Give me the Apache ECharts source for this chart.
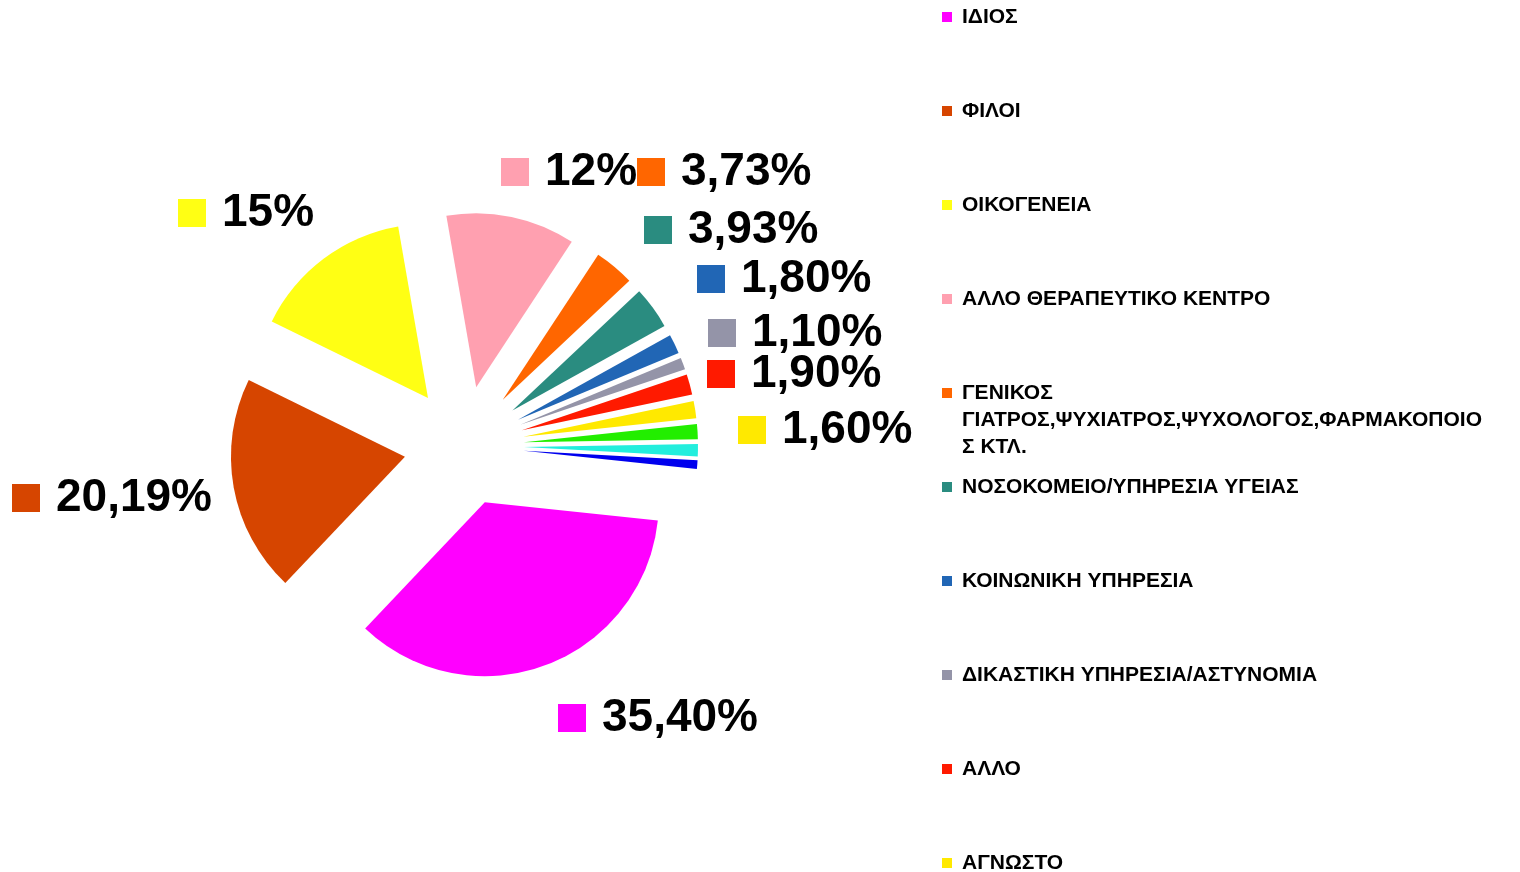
<!DOCTYPE html>
<html>
<head>
<meta charset="utf-8">
<script src="https://cdn.jsdelivr.net/npm/echarts@6/dist/echarts.min.js"></script>
<style>
html,body{margin:0;padding:0;background:#fff;}
#chart{width:1520px;height:872px;}
</style>
</head>
<body>
<div id="chart"></div>
<script>
// ---- data ----
var categories = [
  'ΙΔΙΟΣ',
  'ΦΙΛΟΙ',
  'ΟΙΚΟΓΕΝΕΙΑ',
  'ΑΛΛΟ ΘΕΡΑΠΕΥΤΙΚΟ ΚΕΝΤΡΟ',
  'ΓΕΝΙΚΟΣ ΓΙΑΤΡΟΣ,ΨΥΧΙΑΤΡΟΣ,ΨΥΧΟΛΟΓΟΣ,ΦΑΡΜΑΚΟΠΟΙΟΣ ΚΤΛ.',
  'ΝΟΣΟΚΟΜΕΙΟ/ΥΠΗΡΕΣΙΑ ΥΓΕΙΑΣ',
  'ΚΟΙΝΩΝΙΚΗ ΥΠΗΡΕΣΙΑ',
  'ΔΙΚΑΣΤΙΚΗ ΥΠΗΡΕΣΙΑ/ΑΣΤΥΝΟΜΙΑ',
  'ΑΛΛΟ',
  'ΑΓΝΩΣΤΟ',
  'Κατηγορία 11',
  'Κατηγορία 12',
  'Κατηγορία 13'
];
var values = [35.40, 20.19, 15, 12, 3.73, 3.93, 1.80, 1.10, 1.90, 1.60, 1.40, 1.15, 0.80];
var valueLabels = ['35,40%', '20,19%', '15%', '12%', '3,73%', '3,93%', '1,80%', '1,10%', '1,90%', '1,60%', '', '', ''];
var legendCount = 10;

// ---- styles ----
var colors = ['#FF00FF', '#D64500', '#FFFF14', '#FFA0B0', '#FF6600', '#2A8C80', '#2166B5', '#9494A8', '#FF1A00', '#FFE900', '#22EE00', '#22EEDD', '#0000EE'];
var labelPos = [
  [558, 718], [12, 498], [178, 213], [501, 172], [637, 172], [644, 230],
  [697, 279], [708, 333], [707, 374], [738, 430]
];
var legendLines = {
  'ΓΕΝΙΚΟΣ ΓΙΑΤΡΟΣ,ΨΥΧΙΑΤΡΟΣ,ΨΥΧΟΛΟΓΟΣ,ΦΑΡΜΑΚΟΠΟΙΟΣ ΚΤΛ.': '\n\nΓΕΝΙΚΟΣ\nΓΙΑΤΡΟΣ,ΨΥΧΙΑΤΡΟΣ,ΨΥΧΟΛΟΓΟΣ,ΦΑΡΜΑΚΟΠΟΙΟ\nΣ ΚΤΛ.'
};
var FONT = '"Liberation Sans", Arial, sans-serif';

var sliceData = categories.map(function (name, i) {
  return { name: name, value: values[i], selected: true, itemStyle: { color: colors[i] } };
});

var labelData = categories.map(function (name, i) {
  return {
    name: name,
    value: values[i],
    label: {
      show: valueLabels[i] !== '',
      formatter: '{m|}{t|' + valueLabels[i] + '}',
      rich: {
        m: { width: 28, height: 28, backgroundColor: colors[i] },
        t: { fontSize: 46, fontWeight: 'bold', color: '#000', fontFamily: FONT, padding: [0, 0, 0, 16], lineHeight: 50 }
      }
    }
  };
});

var legends = [];
for (var i = 0; i < legendCount; i++) {
  var name = categories[i];
  var multi = !!legendLines[name];
  var cy = 17 + 94 * i;
  legends.push({
    show: true,
    selectedMode: false,
    orient: 'vertical',
    left: 942,
    top: multi ? cy - 67.5 : cy - 11,
    padding: 0,
    itemWidth: 10,
    itemHeight: 10,
    icon: 'rect',
    data: [name],
    formatter: function (n) { return legendLines[n] || n; },
    textStyle: {
      fontFamily: FONT,
      fontWeight: 'bold',
      fontSize: 21,
      color: '#000',
      lineHeight: multi ? 27 : 22,
      padding: [0, 0, 0, 5]
    }
  });
}

var chart = echarts.init(document.getElementById('chart'), null, { renderer: 'canvas' });
chart.setOption({
  backgroundColor: '#fff',
  animation: false,
  legend: legends,
  series: [{
    type: 'pie',
    center: [464, 446],
    radius: 174,
    clockwise: true,
    startAngle: -6,
    selectedMode: 'multiple',
    selectedOffset: 60,
    emphasis: { disabled: true },
    itemStyle: { borderWidth: 0 },
    label: { show: false },
    labelLine: { show: false },
    data: sliceData
  }, {
    type: 'pie',
    center: [464, 446],
    radius: 174,
    clockwise: true,
    startAngle: -6,
    silent: true,
    selectedMode: false,
    legendHoverLink: false,
    avoidLabelOverlap: false,
    emphasis: { disabled: true },
    itemStyle: { color: 'rgba(0,0,0,0)', borderWidth: 0 },
    label: { position: 'outside' },
    labelLine: { show: false },
    labelLayout: function (p) {
      var pos = labelPos[p.dataIndex];
      if (!pos) return {};
      return { x: pos[0], y: pos[1], align: 'left', verticalAlign: 'middle' };
    },
    data: labelData
  }]
});
</script>
</body>
</html>
